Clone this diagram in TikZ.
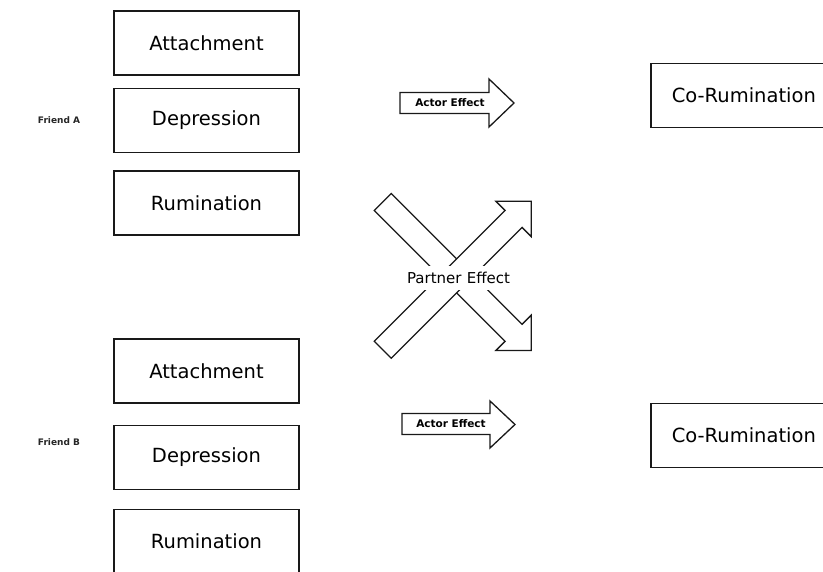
\documentclass[tikz,border=0pt]{standalone}
\usepackage{fontspec}
\setmainfont{DejaVu Sans}
\begin{document}
\begin{tikzpicture}[x=1pt,y=-1pt,
  box/.style={draw=black!90, line width=1.6pt, fill=white, minimum width=185pt, minimum height=64pt, inner sep=0pt, font=\fontsize{19.5}{22}\selectfont},
  fatarrow/.style={draw=black!90, line width=1.3pt, fill=white, line join=miter},
  friend/.style={font=\bfseries\fontsize{9}{11}\selectfont, text=black!85},
  actor/.style={font=\bfseries\fontsize{10.5}{12}\selectfont, inner sep=0pt},
  partner/.style={font=\fontsize{15}{17}\selectfont, fill=white, inner xsep=2pt, inner ysep=6pt}]
\useasboundingbox (0,0) rectangle (823,572);
\clip (0,0) rectangle (823,572);

% Friend A
\node[friend] (fa) at (59,120) {Friend A};
\node[box] (a1) at (206.5,43) {Attachment};
\node[box] (d1) at (206.5,120.5) {Depression};
\node[box] (r1) at (206.5,203) {Rumination};

% Friend B
\node[friend] (fb) at (59,442) {Friend B};
\node[box] (a2) at (206.5,371) {Attachment};
\node[box] (d2) at (206.5,457.5) {Depression};
\node[box] (r2) at (206.5,541.5) {Rumination};

% Co-Rumination
\node[box, minimum width=186pt, anchor=west] (c1) at (650,95.5) {Co-Rumination};
\node[box, minimum width=186pt, anchor=west] (c2) at (650,435.5) {Co-Rumination};

% Actor effect arrows
\draw[fatarrow] (400,92.5) -- (489,92.5) -- (489,79) -- (514,103) -- (489,127) -- (489,113.5) -- (400,113.5) -- cycle;
\node[actor] (ae1) at (450,103) {Actor Effect};
\draw[fatarrow] (402,413.5) -- (490,413.5) -- (490,401) -- (515,424.5) -- (490,448) -- (490,434.5) -- (402,434.5) -- cycle;
\node[actor] (ae2) at (451,424) {Actor Effect};

% Partner effect arrows
\begin{scope}[shift={(382.75,202)}, rotate=-45]
\draw[fatarrow] (0,-12) -- (185,-12) -- (185,-25) -- (210,0) -- (185,25) -- (185,12) -- (0,12) -- cycle;
\end{scope}
\begin{scope}[shift={(382.75,349.75)}, rotate=45]
\draw[fatarrow] (0,-12) -- (185,-12) -- (185,-25) -- (210,0) -- (185,25) -- (185,12) -- (0,12) -- cycle;
\end{scope}
\node[partner] (pe) at (458.5,278) {Partner\hspace{0.35em}Effect};
\end{tikzpicture}
\end{document}
